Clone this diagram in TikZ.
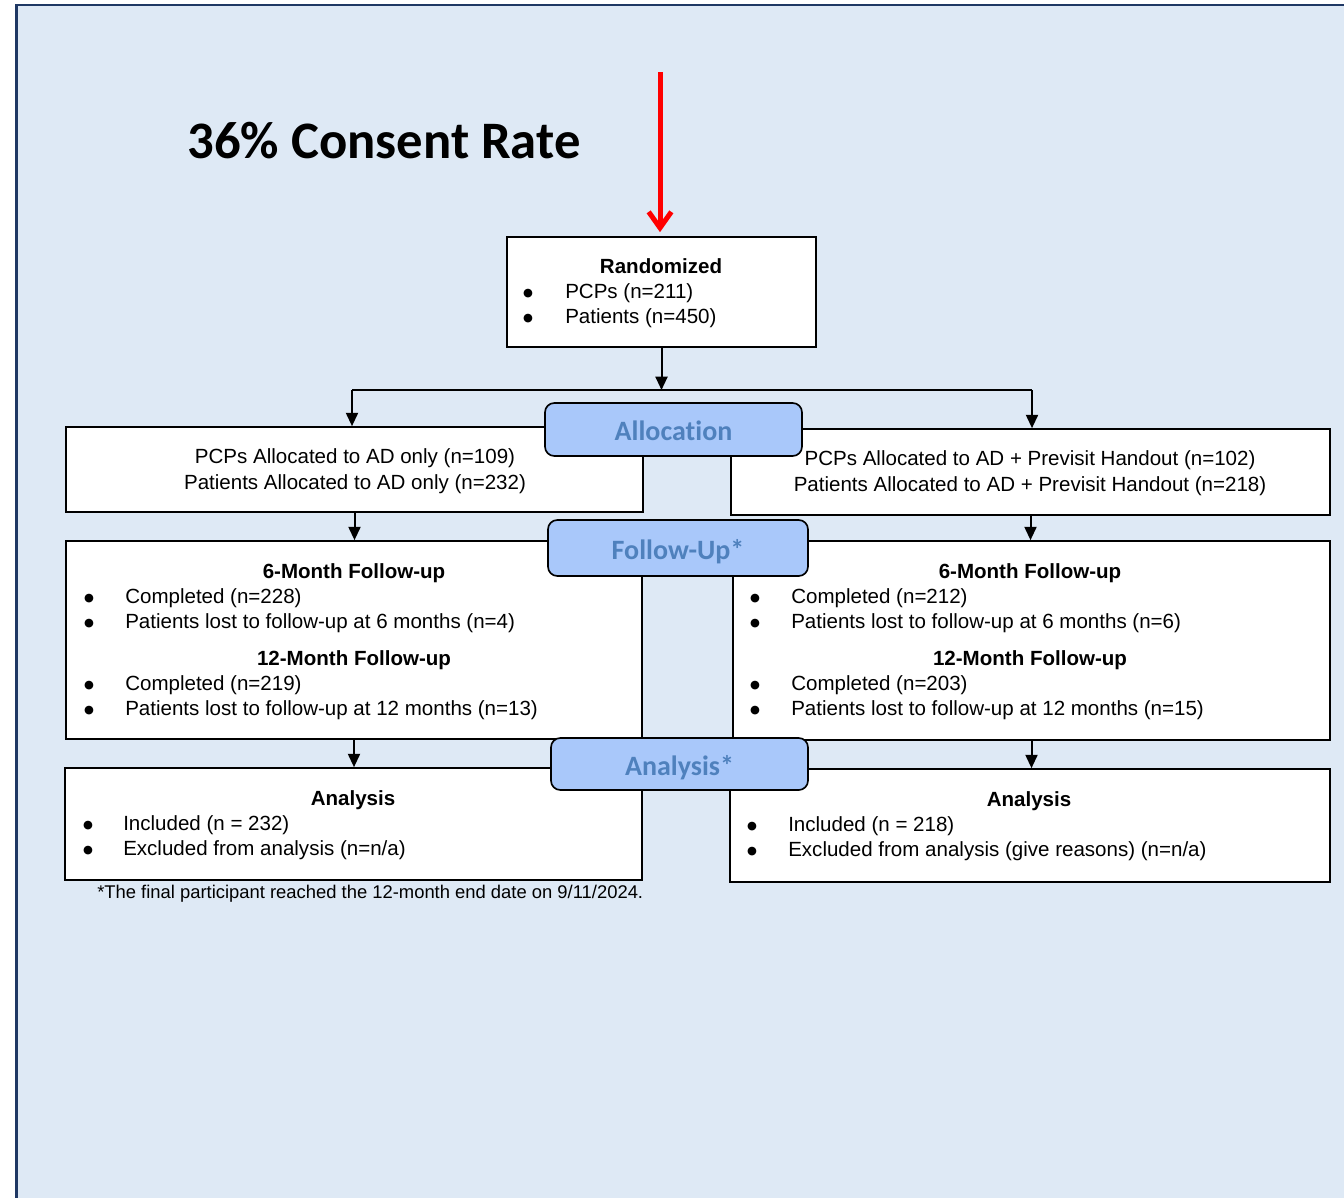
\documentclass[tikz,border=0pt]{standalone}
\usepackage{fontspec}
\setmainfont{Liberation Sans}
\newfontfamily\carl[Ligatures=NoCommon]{Carlito}
\newfontfamily\dejav{DejaVu Sans}
\usetikzlibrary{arrows.meta}
\definecolor{bgc}{HTML}{DEE9F5}
\definecolor{navy}{HTML}{1F3864}
\definecolor{lblfill}{HTML}{A9C8FA}
\definecolor{lbltxt}{HTML}{4F81BD}
\newcommand{\bdot}{\raisebox{1pt}{●}}
\begin{document}
\begin{tikzpicture}[x=0.75pt,y=-0.75pt,
  box/.style={draw=black, fill=white, line width=1.25pt, inner sep=0pt},
  lbl/.style={draw=black, fill=lblfill, line width=1.25pt, rounded corners=7pt, inner sep=0pt,
    text height=16.5pt, text depth=0pt,
    text=lbltxt, font=\carl\bfseries\fontsize{21}{24}\selectfont},
  tx/.style={inner sep=0pt, anchor=base west, font=\fontsize{15.4}{18}\selectfont},
  ctx/.style={inner sep=0pt, anchor=base, font=\fontsize{15.4}{18}\selectfont},
  hd/.style={inner sep=0pt, anchor=base, font=\bfseries\fontsize{15.4}{18}\selectfont},
  bul/.style={inner sep=0pt, anchor=base, font=\dejav\fontsize{8.5}{9}\selectfont},
  arr/.style={draw=black, line width=1.5pt, -{Triangle[length=10pt,width=9pt]}},
  ln/.style={draw=black, line width=1.5pt}]
\clip (0,0) rectangle (1344,1197);
\draw[fill=bgc, draw=navy, line width=2.2pt] (16.5,5) rectangle (1420,1280);

% title
\node[inner sep=0pt, font=\carl\bfseries\fontsize{39.5}{44}\selectfont] (title) at (384,141) {36\% Consent Rate};

% boxes
\node[box, minimum width=231.75pt, minimum height=82.5pt] (rand) at (661.5,292) {};
\node[box, minimum width=432.75pt, minimum height=63.75pt] (allocL) at (354.5,469.5) {};
\node[box, minimum width=449.25pt, minimum height=64.5pt] (allocR) at (1030.5,472) {};
\node[box, minimum width=432pt, minimum height=148.5pt] (fuL) at (354,640) {};
\node[box, minimum width=447.75pt, minimum height=149.25pt] (fuR) at (1031.5,640.5) {};
\node[box, minimum width=432.75pt, minimum height=84pt] (anL) at (353.5,824) {};
\node[box, minimum width=450pt, minimum height=84.75pt] (anR) at (1030,825.5) {};

% red arrow
\coordinate (redtop) at (660,72);
\draw[red, line width=3.75pt, -{Straight Barb[length=12pt,width=17pt]}, shorten >=3pt] (redtop) -- (redtop |- rand.north);

% connectors
\coordinate (split) at (661.5,390);
\coordinate (jl) at (352,390);
\coordinate (jr) at (1032,390);
\draw[arr] (rand.south) -- (split);
\draw[ln] (jl) -- (jr);
\draw[arr] (jl) -- (jl |- allocL.north);
\draw[arr] (jr) -- (jr |- allocR.north);
\draw[arr] (allocL.south) -- (allocL.south |- fuL.north);
\draw[arr] (allocR.south) -- (allocR.south |- fuR.north);
\draw[arr] (fuL.south) -- (fuL.south |- anL.north);
\draw[arr] (fuR.south) -- (fuR.south |- anR.north);

% labels
\node[lbl, minimum width=192.75pt, minimum height=39.75pt] (lAlloc) at (673.5,429.5) {Allocation};
\node[lbl, minimum width=195pt, minimum height=42pt] (lFU) at (678,548) {Follow-Up*};
\node[lbl, minimum width=192.75pt, minimum height=39pt] (lAn) at (679.5,764) {Analysis*};

% randomized text
\node[hd] (randH) at (661,273) {Randomized};
\node[bul] (rb1) at (528,298) {\bdot};
\node[tx] (rt1) at (565,298) {PCPs (n=211)};
\node[bul] (rb2) at (528,323) {\bdot};
\node[tx] (rt2) at (565,323) {Patients (n=450)};

% allocation texts
\node[ctx] (aL1) at (355,463) {PCPs Allocated to AD only (n=109)};
\node[ctx] (aL2) at (355,489) {Patients Allocated to AD only (n=232)};
\node[ctx] (aR1) at (1030,465) {PCPs Allocated to AD + Previsit Handout (n=102)};
\node[ctx] (aR2) at (1030,491) {Patients Allocated to AD + Previsit Handout (n=218)};

% follow-up left
\node[hd] (fL6) at (354,578) {6-Month Follow-up};
\node[bul] (fLb1) at (89,603) {\bdot};
\node[tx] (fLt1) at (125,603) {Completed (n=228)};
\node[bul] (fLb2) at (89,628) {\bdot};
\node[tx] (fLt2) at (125,628) {Patients lost to follow-up at 6 months (n=4)};
\node[hd] (fL12) at (354,665) {12-Month Follow-up};
\node[bul] (fLb3) at (89,690) {\bdot};
\node[tx] (fLt3) at (125,690) {Completed (n=219)};
\node[bul] (fLb4) at (89,715) {\bdot};
\node[tx] (fLt4) at (125,715) {Patients lost to follow-up at 12 months (n=13)};

% follow-up right
\node[hd] (fR6) at (1030,578) {6-Month Follow-up};
\node[bul] (fRb1) at (755,603) {\bdot};
\node[tx] (fRt1) at (791,603) {Completed (n=212)};
\node[bul] (fRb2) at (755,628) {\bdot};
\node[tx] (fRt2) at (791,628) {Patients lost to follow-up at 6 months (n=6)};
\node[hd] (fR12) at (1030,665) {12-Month Follow-up};
\node[bul] (fRb3) at (755,690) {\bdot};
\node[tx] (fRt3) at (791,690) {Completed (n=203)};
\node[bul] (fRb4) at (755,715) {\bdot};
\node[tx] (fRt4) at (791,715) {Patients lost to follow-up at 12 months (n=15)};

% analysis left
\node[hd] (nLh) at (353,805) {Analysis};
\node[bul] (nLb1) at (88,830) {\bdot};
\node[tx] (nLt1) at (123,830) {Included (n = 232)};
\node[bul] (nLb2) at (88,855) {\bdot};
\node[tx] (nLt2) at (123,855) {Excluded from analysis (n=n/a)};

% analysis right
\node[hd] (nRh) at (1029,806) {Analysis};
\node[bul] (nRb1) at (752,831) {\bdot};
\node[tx] (nRt1) at (788,831) {Included (n = 218)};
\node[bul] (nRb2) at (752,856) {\bdot};
\node[tx] (nRt2) at (788,856) {Excluded from analysis (give reasons) (n=n/a)};

% footnote
\node[inner sep=0pt, anchor=base west, font=\fontsize{13.8}{15}\selectfont] (foot) at (97,898) {*The final participant reached the 12-month end date on 9/11/2024.};
\end{tikzpicture}
\end{document}
